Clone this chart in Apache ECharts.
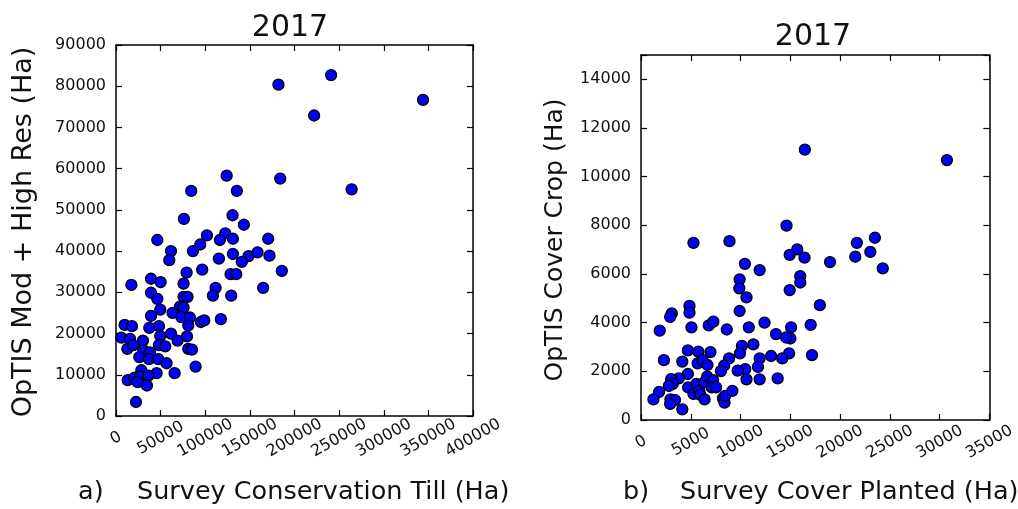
<!DOCTYPE html>
<html>
<head>
<meta charset="utf-8">
<script src="https://cdn.jsdelivr.net/npm/echarts@6/dist/echarts.min.js"></script>
<style>
  html, body { margin: 0; padding: 0; background: #fff; }
  #chart { width: 1018px; height: 509px; }
</style>
</head>
<body>
<div id="chart"></div>
<script>
// a) conservation till: survey vs OpTIS (Ha)
var tillSurvey = [182000, 241000, 344000, 222000, 184000, 264000, 124000, 84300, 135400, 130600,
  143300, 76100, 46300, 101900, 122400, 116400, 131000, 170500, 94400, 61600,
  59700, 86200, 115300, 131000, 148500, 158600, 172000, 141000, 185800, 79100,
  96600, 128400, 134700, 39200, 50000, 17200, 75700, 111600, 108600, 129100,
  164900, 39200, 46300, 75700, 80200, 49600, 71600, 75700, 63400, 39200,
  73100, 82800, 81000, 95100, 98900, 117500, 9700, 17900, 37300, 48100,
  49600, 61600, 69000, 79500, 6000, 15700, 30200, 48100, 55200, 12700,
  19400, 30600, 38100, 26100, 36900, 47400, 81000, 85100, 56700, 89200,
  28400, 45500, 65700, 13100, 20900, 26900, 24300, 36200, 34700, 22400];
var tillOptis = [80400, 82700, 76700, 72900, 57600, 55000, 58300, 54600, 54600, 48700,
  46400, 47800, 42700, 43800, 44300, 42700, 43000, 43000, 41600, 40000,
  37800, 40000, 38200, 39300, 38800, 39700, 38900, 37400, 35200, 34800,
  35500, 34400, 34400, 33300, 32500, 31800, 32100, 31100, 29200, 29200,
  31100, 29900, 28400, 28900, 28900, 25800, 26500, 26300, 25000, 24300,
  24000, 23900, 22000, 22800, 23200, 23500, 22100, 21800, 21400, 21800,
  19400, 20000, 18300, 19300, 19000, 18700, 18300, 17200, 16900, 16300,
  17200, 15900, 15400, 14300, 13800, 13800, 16300, 16100, 12800, 12000,
  11100, 10400, 10400, 8700, 9300, 9600, 8200, 9800, 7400, 3400];

// b) cover crop: survey vs OpTIS (Ha)
var coverSurvey = [16460, 30740, 14620, 5270, 8890, 21690, 21530, 23500, 23040, 24290,
  18990, 15700, 14940, 16430, 16000, 16000, 14940, 17970, 17050, 17180,
  10440, 11920, 9910, 9880, 10600, 9910, 15080, 15010, 14580, 14880,
  14190, 13560, 13070, 12410, 10830, 11290, 10140, 9940, 11920, 11750,
  10470, 9710, 10600, 11920, 13730, 8620, 6810, 7270, 4870, 4870,
  5070, 3090, 2930, 1880, 2300, 4150, 4710, 5760, 6980, 5690,
  6190, 6680, 8850, 8360, 8030, 4710, 3790, 3030, 3190, 2800,
  1810, 1250, 2960, 3420, 2930, 4150, 4740, 5270, 5560, 5860,
  5960, 6390, 6350, 6650, 7240, 7110, 7540, 8230, 8390, 8460, 9180];
var coverOptis = [11110, 10680, 7990, 7280, 7350, 7280, 6710, 7490, 6910, 6230,
  6490, 7010, 6790, 6670, 5910, 5650, 5340, 4720, 3910, 2670,
  6420, 6160, 5780, 5410, 5040, 4480, 3810, 3350, 3390, 2740,
  2530, 3530, 2630, 4000, 3810, 3110, 3050, 2740, 2530, 2180,
  2090, 2030, 1670, 1670, 1710, 3720, 3890, 4040, 4690, 4410,
  3810, 4380, 4240, 3670, 2460, 2400, 2860, 2810, 2790, 2330,
  2460, 2260, 2530, 2240, 2010, 1890, 1710, 1680, 1480, 1400,
  1150, 850, 850, 820, 660, 440, 1340, 1070, 1480, 1200,
  1030, 850, 1550, 1780, 1640, 1340, 1340, 890, 710, 990, 1200];

// axis ranges [min, max, step]
var tillXRange = [0, 400000, 50000];
var tillYRange = [0, 90000, 10000];
var coverXRange = [0, 35000, 5000];
var coverYRange = [0, 15000, 2000];

var FONT = 'DejaVu Sans';

function zip(xs, ys) {
  return xs.map(function (x, i) { return [x, ys[i]]; });
}

// matplotlib-ish boxed axis with inside ticks
function axis(grid, pos, range, labels, rotated) {
  var a = {
    type: 'value',
    gridIndex: grid,
    position: pos,
    min: range[0],
    max: range[1],
    interval: range[2],
    axisLine: { show: true, onZero: false, lineStyle: { color: '#000', width: 1.5 } },
    axisTick: { show: true, inside: true, length: 6, lineStyle: { color: '#000', width: 1.2 } },
    splitLine: { show: false },
    axisLabel: { show: labels, color: '#111', fontSize: 16, fontFamily: FONT, margin: 10,
      // hide the off-step max (15000)
      formatter: function (v) { return v % range[2] !== 0 ? '' : String(v); } }
  };
  if (rotated) {
    a.axisLabel.rotate = 30;
    a.axisLabel.align = 'center';
    a.axisLabel.verticalAlign = 'middle';
    a.axisLabel.margin = 22;
  }
  return a;
}

function txt(x, y, s, size, rot) {
  return {
    type: 'text', x: x, y: y, rotation: rot || 0,
    style: { text: s, fontSize: size, fontFamily: FONT, fill: '#111',
      textAlign: rot ? 'center' : 'left', textVerticalAlign: 'middle' }
  };
}

var dot = { color: '#0000ff', borderColor: '#000', borderWidth: 1.3, opacity: 1 };

var chart = echarts.init(document.getElementById('chart'));
chart.setOption({
  backgroundColor: '#fff',
  animation: false,
  title: [
    { text: '2017', left: 285, top: 8, textAlign: 'center',
      textStyle: { fontSize: 30, fontWeight: 'normal', fontFamily: FONT, color: '#111' } },
    { text: '2017', left: 808, top: 17, textAlign: 'center',
      textStyle: { fontSize: 30, fontWeight: 'normal', fontFamily: FONT, color: '#111' } }
  ],
  grid: [
    { left: 116, top: 45, width: 357, height: 371 },
    { left: 641, top: 55, width: 354, height: 365 }
  ],
  xAxis: [
    axis(0, 'bottom', tillXRange, true, true),
    axis(0, 'top', tillXRange, false),
    axis(1, 'bottom', coverXRange, true, true),
    axis(1, 'top', coverXRange, false)
  ],
  yAxis: [
    axis(0, 'left', tillYRange, true),
    axis(0, 'right', tillYRange, false),
    axis(1, 'left', coverYRange, true),
    axis(1, 'right', coverYRange, false)
  ],
  series: [
    { type: 'scatter', xAxisIndex: 0, yAxisIndex: 0, symbolSize: 11,
      data: zip(tillSurvey, tillOptis), itemStyle: dot },
    { type: 'scatter', xAxisIndex: 2, yAxisIndex: 2, symbolSize: 11,
      data: zip(coverSurvey, coverOptis), itemStyle: dot }
  ],
  graphic: [
    txt(24, 232, 'OpTIS Mod + High Res (Ha)', 27, Math.PI / 2),
    txt(555, 240, 'OpTIS Cover Crop (Ha)', 25, Math.PI / 2),
    txt(78, 492, 'a)', 25.5),
    txt(137, 492, 'Survey Conservation Till (Ha)', 25.5),
    txt(623, 492, 'b)', 25.5),
    txt(680, 492, 'Survey Cover Planted (Ha)', 25.5)
  ]
});
</script>
</body>
</html>
